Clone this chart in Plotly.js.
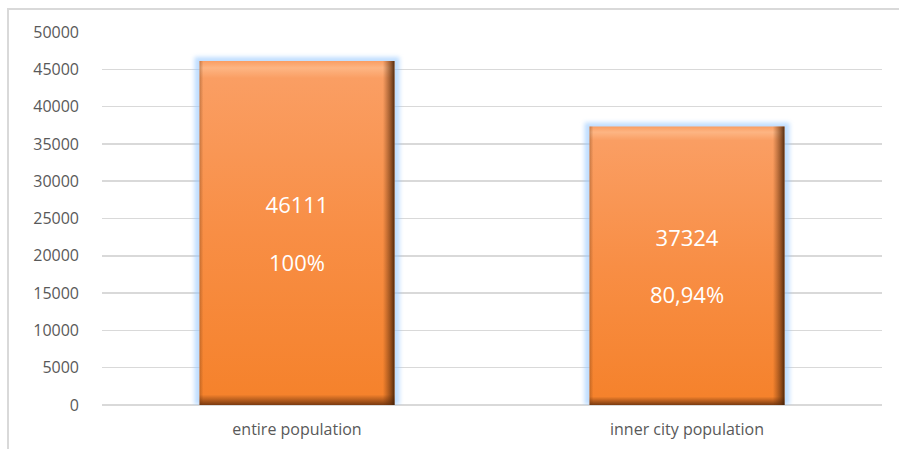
<!DOCTYPE html>
<html>
<head>
<meta charset="utf-8">
<script src="https://cdn.plot.ly/plotly-3.0.1.min.js"></script>
<style>
  html, body { margin: 0; padding: 0; background: #fff; }
  #wrap { position: relative; width: 899px; height: 449px; }
  #chart { width: 899px; height: 449px; }
  #frame { position: absolute; left: 7px; top: 8px; width: 892px; height: 441px;
           border-left: 2px solid #D9D9D9; border-top: 2px solid #D9D9D9; pointer-events: none; box-sizing: border-box; }
</style>
</head>
<body>
<div id="wrap">
  <div id="chart"></div>
  <div id="frame"></div>
</div>
<script>
const categories = ["entire population", "inner city population"];
const populationValues = [46111, 37324];
const shareLabels = ["100%", "80,94%"];
const yTicks = [0, 5000, 10000, 15000, 20000, 25000, 30000, 35000, 40000, 45000, 50000];

const barText = populationValues.map((v, i) => v + "<br><br>" + shareLabels[i]);
const glowPad = 550;
const FONT = "'Open Sans', Lato, sans-serif";

const glow = {
  type: "bar", x: categories, y: populationValues.map(v => v + glowPad),
  width: 0.526, marker: { color: "rgba(150,200,255,0.6)", line: { width: 0 } },
  hoverinfo: "skip", showlegend: false
};
const main = {
  type: "bar", x: categories, y: populationValues,
  width: 0.5, marker: { color: "#F78A3C", line: { width: 0 } },
  text: barText, textposition: "inside", insidetextanchor: "middle", textangle: 0,
  textfont: { family: FONT, size: 22, color: "#FFFFFF" },
  hoverinfo: "skip", showlegend: false
};
const shade = {
  type: "bar", x: categories, y: populationValues,
  width: 0.5, marker: { color: "rgba(0,0,0,0)", line: { width: 0 } },
  hoverinfo: "skip", showlegend: false
};

const layout = {
  width: 899, height: 449,
  margin: { l: 102, r: 17, t: 32, b: 44, pad: 0 },
  paper_bgcolor: "#FFFFFF", plot_bgcolor: "#FFFFFF",
  barmode: "overlay",
  font: { family: FONT, color: "#595959", size: 16 },
  xaxis: {
    type: "category", showgrid: false, zeroline: false, showline: false, ticks: "",
    tickfont: { family: FONT, size: 16, color: "#595959" }, ticklabelstandoff: 13, fixedrange: true
  },
  yaxis: {
    range: [0, 50000], tickvals: yTicks, ticktext: yTicks.map(String),
    showgrid: true, gridcolor: "#D9D9D9", gridwidth: 1.5,
    zeroline: true, zerolinecolor: "#D9D9D9", zerolinewidth: 1.5,
    showline: false, ticks: "", ticklabelstandoff: 22,
    tickfont: { family: FONT, size: 16, color: "#595959" }, fixedrange: true
  }
};

Plotly.newPlot("chart", [glow, main, shade], layout, { displayModeBar: false, staticPlot: true }).then(gd => {
  const svg = gd.querySelector("svg.main-svg");
  const ns = "http://www.w3.org/2000/svg";
  let defs = svg.querySelector("defs");
  if (!defs) { defs = document.createElementNS(ns, "defs"); svg.insertBefore(defs, svg.firstChild); }
  function grad(id, x2, y2, stops) {
    const g = document.createElementNS(ns, "linearGradient");
    g.setAttribute("id", id);
    g.setAttribute("x1", "0"); g.setAttribute("y1", "0");
    g.setAttribute("x2", x2); g.setAttribute("y2", y2);
    stops.forEach(s => {
      const st = document.createElementNS(ns, "stop");
      st.setAttribute("offset", s[0]); st.setAttribute("stop-color", s[1]); st.setAttribute("stop-opacity", s[2]);
      g.appendChild(st);
    });
    defs.appendChild(g);
  }
  grad("gMain", "0", "1", [["0", "#FA9D62", 1], ["0.02", "#FDB583", 1], ["0.05", "#FA9E63", 1], ["0.5", "#F88E45", 1], ["0.97", "#F5822C", 1], ["1", "#7A3A10", 1]]);
  grad("gSide", "1", "0", [["0", "#6B3510", 0.35], ["0.02", "#6B3510", 0.0], ["0.94", "#6B3510", 0.0], ["0.98", "#5A2C0C", 0.6], ["1", "#3E1F08", 0.9]]);
  const traces = svg.querySelectorAll("g.trace.bars");
  if (traces.length >= 3) {
    traces[1].querySelectorAll("g.point path").forEach(p => { p.style.fill = "url(#gMain)"; p.style.fillOpacity = 1; });
    traces[2].querySelectorAll("g.point path").forEach(p => { p.style.fill = "url(#gSide)"; p.style.fillOpacity = 1; });
    traces[0].querySelectorAll("g.point path").forEach(p => { p.style.filter = "blur(2px)"; });
  }
});
</script>
</body>
</html>
